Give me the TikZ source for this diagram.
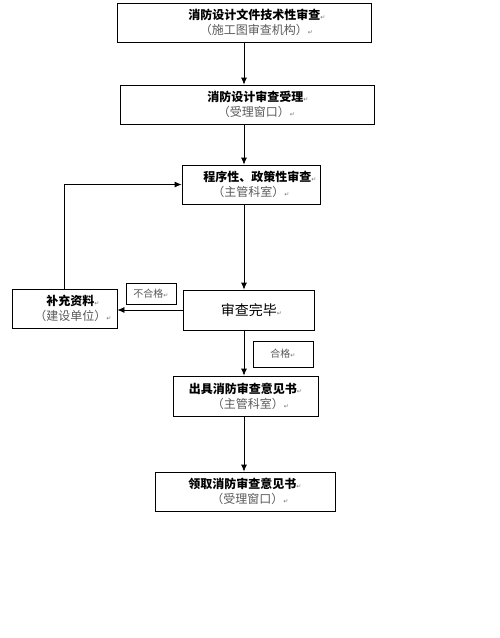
\documentclass[tikz,border=0pt]{standalone}
\usepackage{fontspec}
\setmainfont{Noto Sans CJK SC}
\newfontfamily\dejavu{DejaVu Sans}
\usetikzlibrary{arrows.meta}
\usepackage{xcolor}

\newcommand{\retmark}{{\dejavu\fontsize{6}{6}\selectfont\textcolor{black!55}{↵}}}
\newcommand{\dept}[1]{\textcolor{black!65}{#1}}
\newcommand{\indentby}[1]{\hspace*{#1}}

\begin{document}
\begin{tikzpicture}[x=1pt, y=-1pt, >={Latex[length=7pt,width=6pt]},
    box/.style={draw=black, line width=0.8pt, minimum height=39pt, inner sep=0pt,
      align=center, font=\fontsize{12}{15}\selectfont},
    tag/.style={draw=black, line width=0.8pt, inner sep=0pt,
      text=black!65, font=\fontsize{10}{12}\selectfont},
    flow/.style={->, line width=0.8pt, draw=black}]
  \useasboundingbox (0,0) rectangle (500,638);
  \coordinate (spine) at (244,0);

  \node[box, minimum width=254pt] (tech) at (244,22.5)
    {\indentby{26pt}\textbf{消防设计文件技术性审查}\retmark\\\indentby{25pt}\dept{（施工图审查机构）}\retmark};
  \node[box, minimum width=254pt] (accept) at (247,104.5)
    {\indentby{22pt}\textbf{消防设计审查受理}\retmark\\\indentby{19pt}\dept{（受理窗口）}\retmark};
  \node[box, minimum width=138pt] (policy) at (251,184.5)
    {\indentby{18pt}\textbf{程序性、政策性审查}\retmark\\\dept{（主管科室）}\retmark};
  \node[box, minimum width=131pt, minimum height=40pt, font=\fontsize{14}{16}\selectfont]
    (done) at (248.5,310) {\indentby{6pt}审查完毕\retmark};
  \node[box, minimum width=105pt] (supp) at (64.5,308.5)
    {\indentby{17pt}\textbf{补充资料}\retmark\\\indentby{17pt}\dept{（建设单位）}\retmark};
  \node[box, minimum width=145pt, minimum height=40pt] (issue) at (245.5,396)
    {\textbf{出具消防审查意见书}\retmark\\\indentby{10pt}\dept{（主管科室）}\retmark};
  \node[box, minimum width=180pt] (fetch) at (245,491.5)
    {\textbf{领取消防审查意见书}\retmark\\\indentby{10pt}\dept{（受理窗口）}\retmark};

  \node[tag, minimum width=50pt, minimum height=21pt] (fail) at (151,293.5) {不合格\retmark};
  \node[tag, minimum width=60pt, minimum height=26pt] (pass) at (283,354) {合格\retmark};

  \draw[flow] (tech.south -| spine) -- (accept.north -| spine);
  \draw[flow] (accept.south -| spine) -- (policy.north -| spine);
  \draw[flow] (policy.south -| spine) -- (done.north -| spine);
  \draw[flow] (done.south -| spine) -- (issue.north -| spine);
  \draw[flow] (issue.south -| spine) -- (fetch.north -| spine);
  \draw[flow] (done.west) -- (done.west -| supp.east);
  \draw[flow] (supp.north) |- (policy.west);
\end{tikzpicture}
\end{document}
